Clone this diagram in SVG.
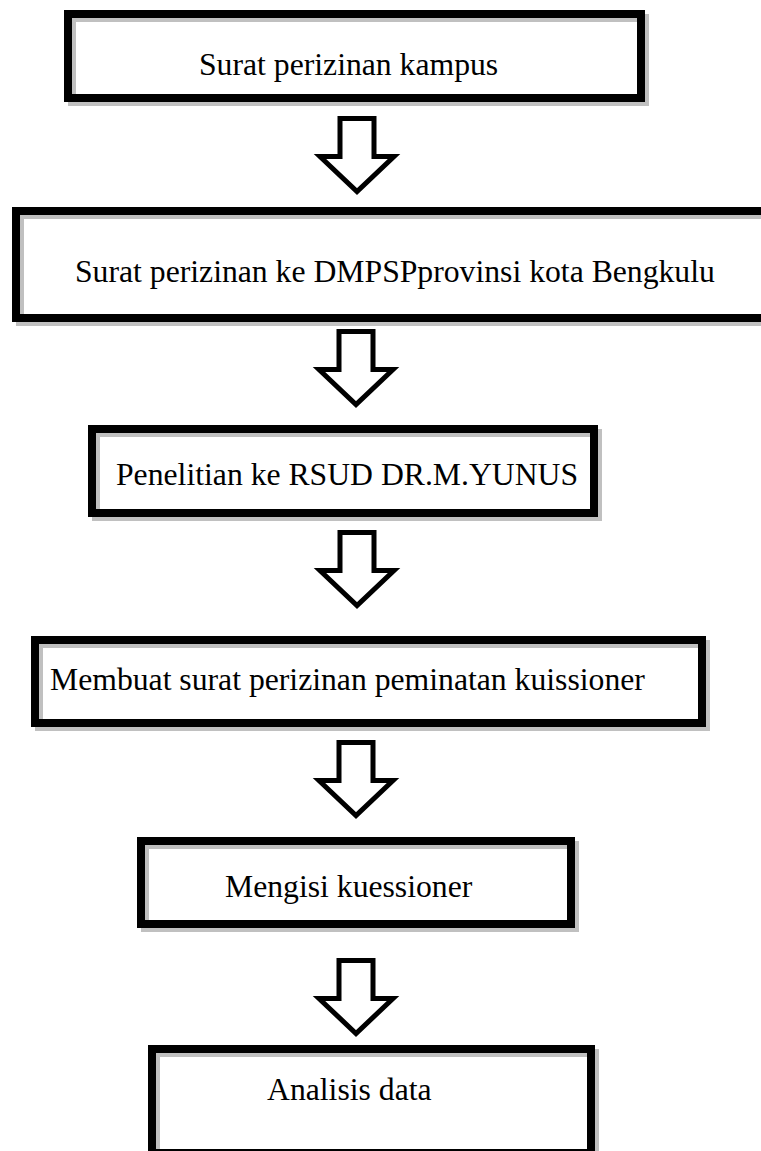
<svg xmlns="http://www.w3.org/2000/svg" xmlns:xlink="http://www.w3.org/1999/xlink" width="761" height="1151" viewBox="0 0 761 1151">
<style>
.shadow{fill:none;stroke:#c0c0c0;stroke-width:8}
.frame{fill:none;stroke:#000;stroke-width:8}
.lbl{font-family:"Liberation Serif","Times New Roman",serif;font-size:31.7px;fill:#000}
.arrow{fill:#fff;stroke:#000;stroke-width:5;stroke-linejoin:miter;stroke-miterlimit:10}
</style>
<defs>
<path id="down" d="M-17,-73 H17 V-35 H37 L0,0 L-37,-35 H-17 Z"/>
</defs>
<rect x="0" y="0" width="761" height="1151" fill="#fff"/>
<g id="connectors">
<use xlink:href="#down" href="#down" class="arrow" transform="translate(357,191.5)"/>
<use xlink:href="#down" href="#down" class="arrow" transform="translate(356,404.5)"/>
<use xlink:href="#down" href="#down" class="arrow" transform="translate(357,605.5)"/>
<use xlink:href="#down" href="#down" class="arrow" transform="translate(356,815.5)"/>
<use xlink:href="#down" href="#down" class="arrow" transform="translate(356,1033.5)"/>
</g>
<g id="node1">
<rect class="shadow" x="72" y="18" width="573" height="84"/>
<rect class="frame" x="68" y="14" width="573" height="84"/>
<text class="lbl" x="199" y="75">Surat perizinan kampus</text>
</g>
<g id="node2">
<rect class="shadow" x="20" y="215" width="750" height="107"/>
<rect class="frame" x="16" y="211" width="750" height="107"/>
<text class="lbl" x="75" y="282">Surat perizinan ke DMPSPprovinsi kota Bengkulu</text>
</g>
<g id="node3">
<rect class="shadow" x="96" y="433" width="502" height="84"/>
<rect class="frame" x="92" y="429" width="502" height="84"/>
<text class="lbl" x="116" y="485">Penelitian ke RSUD DR.M.YUNUS</text>
</g>
<g id="node4">
<rect class="shadow" x="39" y="644" width="667" height="83"/>
<rect class="frame" x="35" y="640" width="667" height="83"/>
<text class="lbl" x="50" y="690">Membuat surat perizinan peminatan kuissioner</text>
</g>
<g id="node5">
<rect class="shadow" x="145" y="845" width="430" height="83"/>
<rect class="frame" x="141" y="841" width="430" height="83"/>
<text class="lbl" x="225" y="897">Mengisi kuessioner</text>
</g>
<g id="node6">
<rect class="shadow" x="156" y="1053" width="439" height="104"/>
<rect class="frame" x="152" y="1049" width="439" height="104"/>
<text class="lbl" x="267" y="1100">Analisis data</text>
</g>
</svg>
